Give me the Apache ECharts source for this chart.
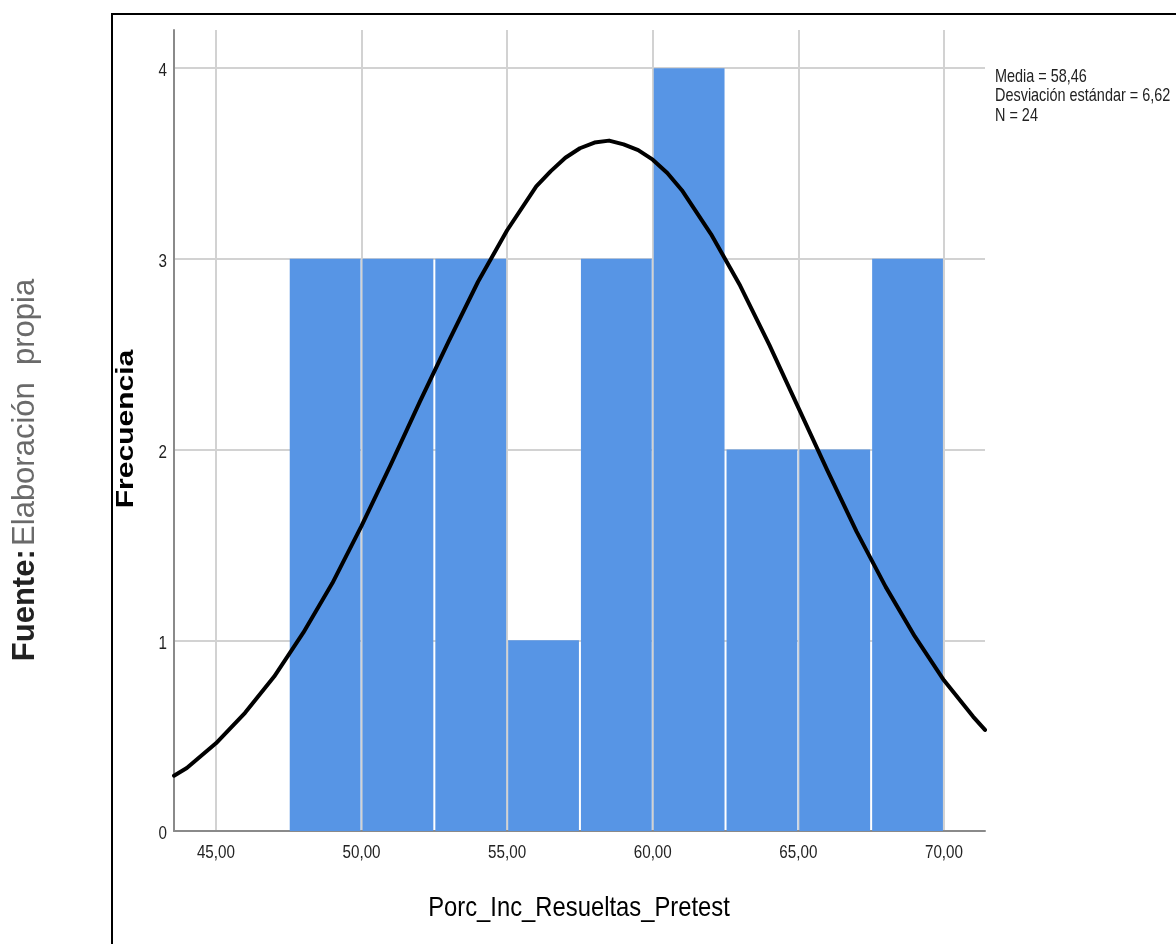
<!DOCTYPE html>
<html><head><meta charset="utf-8">
<script src="https://cdn.jsdelivr.net/npm/echarts@6/dist/echarts.min.js"></script>
<style>html,body{margin:0;padding:0;background:#fff}#c{width:1176px;height:944px}</style>
</head><body><div id="c"></div>
<script>
// Histogram bins
const binStart = [47.5, 50, 52.5, 55, 57.5, 60, 62.5, 65, 67.5];
const binEnd   = [50, 52.5, 55, 57.5, 60, 62.5, 65, 67.5, 70];
const counts   = [3, 3, 3, 1, 3, 4, 2, 2, 3];
// Normal curve points
const curveX = [43.56, 44, 45, 46, 47, 48, 49, 50, 51, 52, 53, 54, 55, 56, 56.5, 57, 57.5, 58, 58.5, 59, 59.5, 60, 60.5, 61, 62, 63, 64, 65, 66, 67, 68, 69, 70, 71, 71.41];
const curveY = [0.29, 0.33, 0.46, 0.62, 0.81, 1.04, 1.30, 1.60, 1.92, 2.25, 2.57, 2.88, 3.15, 3.38, 3.46, 3.53, 3.58, 3.61, 3.62, 3.60, 3.57, 3.52, 3.45, 3.36, 3.13, 2.86, 2.55, 2.22, 1.89, 1.57, 1.28, 1.02, 0.79, 0.60, 0.53];
// Axis ticks
const xTicks = [45, 50, 55, 60, 65, 70];
const yTicks = [0, 1, 2, 3, 4];
const statsLines = ['Media = 58,46', 'Desviación estándar = 6,62', 'N = 24'];

const sans = "'Liberation Sans', Arial, sans-serif";
const fmtX = v => v.toFixed(2).replace('.', ',');
const X_MIN = 43.56, X_MAX = 71.41;

const chart = echarts.init(document.getElementById('c'), null, {renderer: 'canvas'});
chart.setOption({
  animation: false,
  backgroundColor: '#fff',
  grid: {left: 174, right: 191, top: 30, bottom: 113, containLabel: false},
  xAxis: {
    type: 'value', min: X_MIN, max: X_MAX,
    axisLine: {show: true, lineStyle: {color: '#8a8a8a', width: 2}},
    axisTick: {show: false, customValues: xTicks},
    axisLabel: {show: false, customValues: xTicks},
    splitLine: {show: true, lineStyle: {color: '#d2d2d2', width: 2}}
  },
  yAxis: {
    type: 'value', min: 0, max: 4.2,
    axisLine: {show: true, lineStyle: {color: '#8a8a8a', width: 2}},
    axisTick: {show: false, customValues: yTicks},
    axisLabel: {show: false, customValues: yTicks},
    splitLine: {show: true, lineStyle: {color: '#d2d2d2', width: 2}}
  },
  series: [
    {
      type: 'custom',
      data: binStart.map((b, i) => [b, binEnd[i], counts[i]]),
      encode: {x: [0, 1], y: 2},
      renderItem: function (params, api) {
        const s = api.coord([api.value(0), 0]);
        const e = api.coord([api.value(1), api.value(2)]);
        return {type: 'rect', shape: {x: s[0] + 1, y: e[1], width: e[0] - s[0] - 2, height: s[1] - e[1]},
          style: {fill: '#5795e5'}};
      },
      z: 2
    },
    {
      type: 'line',
      data: curveX.map((x, i) => [x, curveY[i]]),
      smooth: false, symbol: 'none', clip: true,
      lineStyle: {color: '#000', width: 4, join: 'round', cap: 'round'},
      z: 3
    }
  ]
});

// Tick labels placed through the chart's own scales (condensed look via scaleX)
const tickGraphics = [];
xTicks.forEach(v => {
  const p = chart.convertToPixel({gridIndex: 0}, [v, 0]);
  tickGraphics.push({type: 'text', x: p[0], y: p[1] + 22, scaleX: 0.8,
    style: {text: fmtX(v), font: '19px ' + sans, fill: '#222', textAlign: 'center', textVerticalAlign: 'middle'}, z: 10});
});
yTicks.forEach(v => {
  const p = chart.convertToPixel({gridIndex: 0}, [X_MIN, v]);
  tickGraphics.push({type: 'text', x: p[0] - 7, y: p[1] + 3, scaleX: 0.8,
    style: {text: String(v), font: '19px ' + sans, fill: '#222', textAlign: 'right', textVerticalAlign: 'middle'}, z: 10});
});

chart.setOption({
  graphic: [
    {type: 'rect', shape: {x: 112, y: 14, width: 1300, height: 1100}, style: {fill: null, stroke: '#000', lineWidth: 2}, z: 0, silent: true},
    {type: 'text', x: 995, y: 67, scaleX: 0.78, style: {text: statsLines.join('\n'), font: '18.5px ' + sans, fill: '#222', lineHeight: 19.5, textVerticalAlign: 'top'}, z: 10},
    {type: 'text', x: 579, y: 908, scaleX: 0.85, style: {text: 'Porc_Inc_Resueltas_Pretest', font: '28px ' + sans, fill: '#000', textAlign: 'center', textVerticalAlign: 'middle'}, z: 10},
    {type: 'text', x: 127, y: 429, rotation: Math.PI / 2, scaleY: 0.78, style: {text: 'Frecuencia', font: 'bold 30px ' + sans, fill: '#000', textAlign: 'center', textVerticalAlign: 'middle'}, z: 10},
    {type: 'text', x: 25, y: 470, rotation: Math.PI / 2, style: {
      text: '{b|Fuente:} {n|Elaboración  propia}', textAlign: 'center', textVerticalAlign: 'middle',
      rich: {b: {font: 'bold 31px ' + sans, fill: '#222'}, n: {font: '31px ' + sans, fill: '#6a6a6a'}}}, z: 10}
  ].concat(tickGraphics)
});
</script></body></html>
